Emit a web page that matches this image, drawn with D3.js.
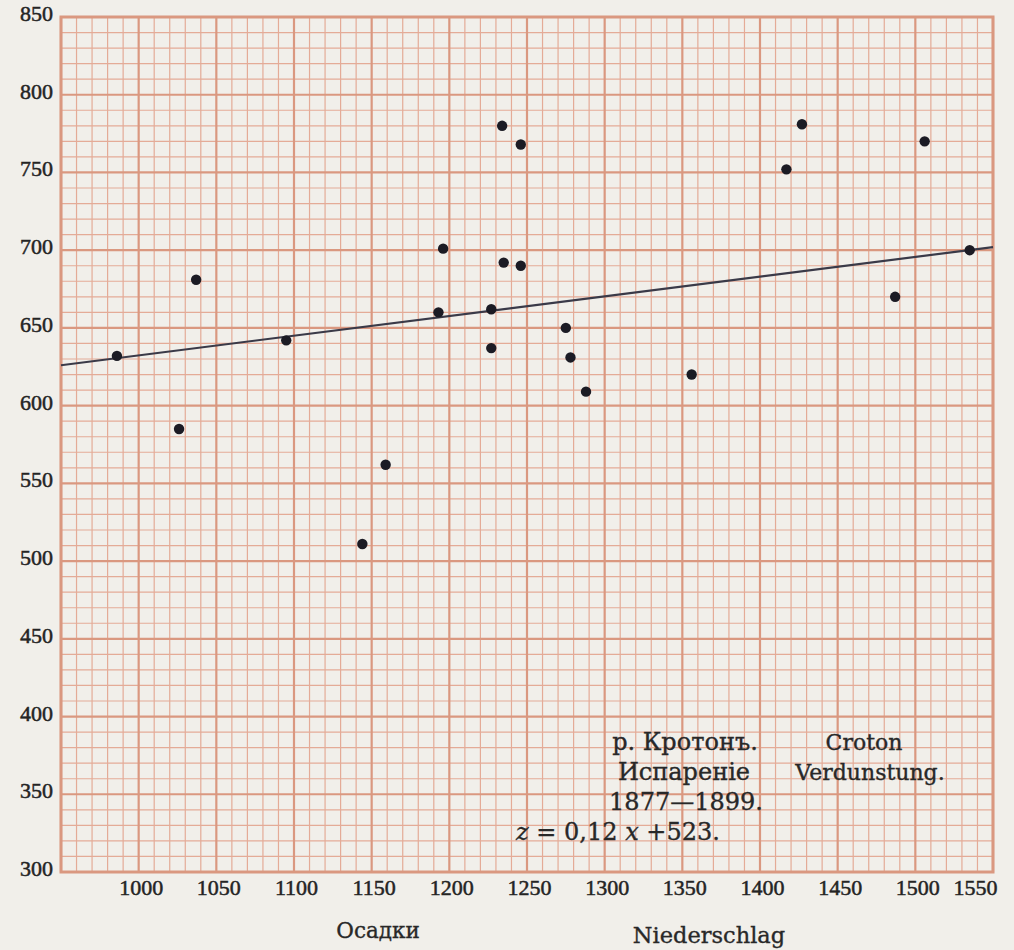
<!DOCTYPE html>
<html>
<head>
<meta charset="utf-8">
<script src="https://cdn.jsdelivr.net/npm/d3@7/dist/d3.min.js"></script>
<style>
  html, body { margin: 0; padding: 0; background: #f1efea; }
  svg { display: block; }
</style>
</head>
<body>
<svg id="chart" width="1014" height="950"></svg>
<script>
// ---- data ----
const precipitation = [986, 1037, 1026, 1095, 1196, 1235, 1246, 1193, 1227, 1275, 1227, 1278, 1288, 1159, 1144, 1234, 1246, 1427, 1417, 1506, 1535, 1487, 1356];
const evaporation   = [632, 681, 585, 642, 701, 692, 690, 660, 662, 650, 637, 631, 609, 562, 511, 780, 768, 781, 752, 770, 700, 670, 620];
const trendX = [950, 1550];
const trendY = [626, 702];
const xTicks = [1000, 1050, 1100, 1150, 1200, 1250, 1300, 1350, 1400, 1450, 1500, 1550];
const yTicks = [300, 350, 400, 450, 500, 550, 600, 650, 700, 750, 800, 850];
const xTitleRu = "Осадки";
const xTitleDe = "Niederschlag";
const noteRu = ["р. Кротонъ.", "Испаренiе", "1877—1899."];
const noteDe = ["Croton", "Verdunstung."];

(function () {
// ---- layout ----
const svg = d3.select("#chart");
const pl = 61, pr = 993, pt = 17, pb = 872;
const x = d3.scaleLinear().domain([950, 1550]).range([pl, pr]);
const y = d3.scaleLinear().domain([300, 850]).range([pb, pt]);

svg.append("rect").attr("width", 1014).attr("height", 950).attr("fill", "#f1efea");

const grid = svg.append("g");
const minorX = d3.range(950, 1551, 10).filter(v => v % 50 !== 0);
const minorY = d3.range(300, 851, 10).filter(v => v % 50 !== 0);
const majorX = d3.range(950, 1551, 50);
const majorY = d3.range(300, 851, 50);
const minorColor = "#e4ab97", majorColor = "#da9880";

grid.selectAll(".mx").data(minorX).join("line")
  .attr("x1", d => x(d)).attr("x2", d => x(d)).attr("y1", pt).attr("y2", pb)
  .attr("stroke", minorColor).attr("stroke-width", 1.2);
grid.selectAll(".my").data(minorY).join("line")
  .attr("y1", d => y(d)).attr("y2", d => y(d)).attr("x1", pl).attr("x2", pr)
  .attr("stroke", minorColor).attr("stroke-width", 1.2);
grid.selectAll(".Mx").data(majorX).join("line")
  .attr("x1", d => x(d)).attr("x2", d => x(d)).attr("y1", pt).attr("y2", pb)
  .attr("stroke", majorColor).attr("stroke-width", 2.2);
grid.selectAll(".My").data(majorY).join("line")
  .attr("y1", d => y(d)).attr("y2", d => y(d)).attr("x1", pl).attr("x2", pr)
  .attr("stroke", majorColor).attr("stroke-width", 2.2);
grid.append("rect").attr("x", pl).attr("y", pt)
  .attr("width", pr - pl).attr("height", pb - pt)
  .attr("fill", "none").attr("stroke", majorColor).attr("stroke-width", 3);

// ---- axes (labels only, as printed) ----
const tickFont = "Liberation Serif";
const xAxis = d3.axisBottom(x).tickValues(xTicks).tickFormat(d3.format("d")).tickSize(0).tickPadding(0);
const gx = svg.append("g").attr("transform", `translate(0,${pb})`).call(xAxis);
gx.select(".domain").remove();
gx.selectAll("text").style("font-family", tickFont).style("font-size", "22px")
  .attr("fill", "#242424").attr("stroke", "#242424").attr("stroke-width", 0.5)
  .attr("dy", 0).attr("y", 23).attr("dx", d => d === 1550 ? -18 : 2);

const yAxis = d3.axisLeft(y).tickValues(yTicks).tickFormat(d3.format("d")).tickSize(0).tickPadding(0);
const gy = svg.append("g").attr("transform", `translate(53,0)`).call(yAxis);
gy.select(".domain").remove();
gy.selectAll("text").style("font-family", tickFont).style("font-size", "22px")
  .attr("fill", "#242424").attr("stroke", "#242424").attr("stroke-width", 0.5)
  .attr("dy", 3.5);

// ---- trend line ----
svg.append("path")
  .datum(trendX.map((v, i) => [v, trendY[i]]))
  .attr("d", d3.line().x(d => x(d[0])).y(d => y(d[1])))
  .attr("stroke", "#3a3a48").attr("stroke-width", 2.2).attr("fill", "none");

// ---- points ----
svg.append("g").selectAll("circle")
  .data(precipitation.map((v, i) => ({ p: v, e: evaporation[i] })))
  .join("circle")
  .attr("cx", d => x(d.p)).attr("cy", d => y(d.e)).attr("r", 5.2)
  .attr("fill", "#1b1b24");

// ---- texts ----
const serif = "DejaVu Serif";
function label(t, cx, by, size) {
  return svg.append("text").attr("x", cx).attr("y", by).attr("text-anchor", "middle")
    .style("font-family", serif).style("font-size", size + "px")
    .attr("fill", "#282828").attr("stroke", "#282828").attr("stroke-width", 0.35).text(t);
}
label(xTitleRu, 378, 938, 21.5);
label(xTitleDe, 709, 943, 22.5);

const ruCx = [685, 684, 686], ruBy = [750, 780, 810];
noteRu.forEach((t, i) => label(t, ruCx[i], ruBy[i], 24));
const deCx = [864, 870], deBy = [750, 780];
noteDe.forEach((t, i) => label(t, deCx[i], deBy[i], 22));

const eq = label("", 618, 840, 24);
eq.append("tspan").attr("font-style", "italic").text("z");
eq.append("tspan").text(" = 0,12 ");
eq.append("tspan").attr("font-style", "italic").text("x");
eq.append("tspan").text(" +523.");
})();
</script>
</body>
</html>
